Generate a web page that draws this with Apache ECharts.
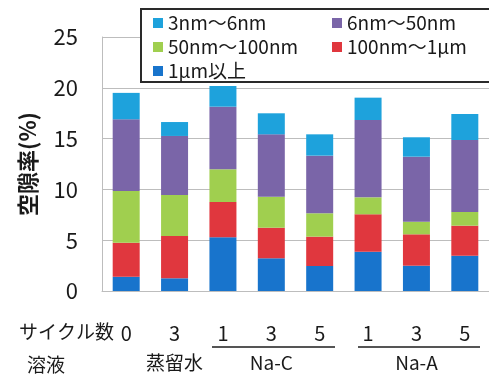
<!DOCTYPE html>
<html>
<head>
<meta charset="utf-8">
<script src="https://cdn.jsdelivr.net/npm/echarts@6/dist/echarts.min.js"></script>
<style>
html,body{margin:0;padding:0;background:#fff;}
#c{width:489px;height:378px;}
</style>
</head>
<body>
<div id="c"></div>
<script>
// ---- data ----
var cycles = ['0', '3', '1', '3', '5', '1', '3', '5'];
var solutions = ['蒸留水', '蒸留水', 'Na-C', 'Na-C', 'Na-C', 'Na-A', 'Na-A', 'Na-A'];
var solutionLabelIndex = [1, 3, 6];
var seriesNames = ['3nm～6nm', '6nm～50nm', '50nm～100nm', '100nm～1μm', '1μm以上'];
var over1um = [1.40, 1.25, 5.28, 3.22, 2.46, 3.87, 2.49, 3.47];
var nm100to1um = [3.35, 4.16, 3.48, 3.01, 2.89, 3.68, 3.09, 2.96];
var nm50to100 = [5.10, 4.04, 3.22, 3.05, 2.30, 1.67, 1.24, 1.35];
var nm6to50 = [7.05, 5.81, 6.16, 6.14, 5.67, 7.61, 6.40, 7.08];
var nm3to6 = [2.60, 1.37, 2.04, 2.07, 2.10, 2.20, 1.91, 2.56];
var yTicks = [0, 5, 10, 15, 20, 25];
var yTitle = '空隙率(%)';
var rowTitleCycle = 'サイクル数';
var rowTitleSolution = '溶液';

var FONT = '"Noto Sans CJK JP", "Noto Sans", sans-serif';
var colors = {
  '3nm～6nm': '#1ea2dc',
  '6nm～50nm': '#7a65a8',
  '50nm～100nm': '#a0cf4f',
  '100nm～1μm': '#e0373e',
  '1μm以上': '#1874cc'
};
var catIds = cycles.map(function (c, i) { return 'c' + i; });

var stackOrder = [
  ['1μm以上', over1um],
  ['100nm～1μm', nm100to1um],
  ['50nm～100nm', nm50to100],
  ['6nm～50nm', nm6to50],
  ['3nm～6nm', nm3to6]
];

var series = stackOrder.map(function (s) {
  return {
    name: s[0],
    type: 'bar',
    stack: 'total',
    barWidth: 27,
    xAxisIndex: 0,
    itemStyle: { color: colors[s[0]] },
    data: s[1]
  };
});

var chart = echarts.init(document.getElementById('c'), null, { renderer: 'canvas' });
chart.setOption({
  animation: false,
  backgroundColor: '#ffffff',
  textStyle: { fontFamily: FONT },
  grid: { left: 102, top: 37, width: 392, bottom: 87, containLabel: false },
  legend: {
    data: seriesNames,
    left: 141,
    top: 9,
    width: 360,
    orient: 'horizontal',
    padding: [4, 0, 1, 12],
    itemGap: 4,
    itemWidth: 10,
    itemHeight: 10,
    icon: 'rect',
    borderWidth: 0,
    backgroundColor: 'transparent',
    z: 5,
    textStyle: { fontFamily: FONT, fontSize: 19, color: '#1a1a1a', width: 160, lineHeight: 20 }
  },
  xAxis: [
    {
      type: 'category',
      data: catIds,
      position: 'bottom',
      axisLine: { show: true, lineStyle: { color: '#bdbdbd', width: 1 } },
      axisTick: { show: false },
      axisLabel: {
        interval: 0,
        margin: 32,
        fontSize: 20,
        color: '#1a1a1a',
        fontFamily: FONT,
        formatter: function (v, i) { return cycles[i]; }
      }
    },
    {
      type: 'category',
      data: catIds,
      position: 'bottom',
      axisLine: { show: false },
      axisTick: { show: false },
      splitLine: { show: false },
      axisLabel: {
        interval: 0,
        margin: 62,
        fontSize: 19,
        color: '#1a1a1a',
        fontFamily: FONT,
        formatter: function (v, i) {
          return solutionLabelIndex.indexOf(i) >= 0 ? solutions[i] : '';
        }
      }
    }
  ],
  yAxis: {
    type: 'value',
    min: yTicks[0],
    max: yTicks[yTicks.length - 1],
    interval: 5,
    name: yTitle,
    nameLocation: 'middle',
    nameRotate: 90,
    nameGap: 63,
    nameTextStyle: { fontFamily: FONT, fontSize: 22, fontWeight: 'bold', color: '#1a1a1a' },
    axisLine: { show: true, lineStyle: { color: '#bdbdbd', width: 1 } },
    axisTick: { show: false },
    axisLabel: { fontSize: 22, color: '#1a1a1a', margin: 24, fontFamily: FONT },
    splitLine: { show: true, lineStyle: { color: '#bdbdbd', width: 1 } }
  },
  series: series,
  graphic: [
    {
      type: 'rect', z: 3, silent: true,
      shape: { x: 141, y: 9, width: 360, height: 73 },
      style: { fill: '#ffffff' }
    },
    {
      type: 'polyline', z: 3, silent: true,
      shape: { points: [[520, 9], [141, 9], [141, 82], [520, 82]] },
      style: { fill: null, stroke: '#2a2a2a', lineWidth: 2 }
    },
    {
      type: 'text', left: 19, top: 322,
      style: { text: rowTitleCycle, font: '19px ' + FONT, fill: '#1a1a1a' }
    },
    {
      type: 'text', left: 27, top: 355,
      style: { text: rowTitleSolution, font: '19px ' + FONT, fill: '#1a1a1a' }
    },
    {
      type: 'line', shape: { x1: 212, y1: 347, x2: 335, y2: 347 },
      style: { stroke: '#555555', lineWidth: 2 }
    },
    {
      type: 'line', shape: { x1: 358, y1: 347, x2: 480, y2: 347 },
      style: { stroke: '#555555', lineWidth: 2 }
    }
  ]
});
</script>
</body>
</html>
